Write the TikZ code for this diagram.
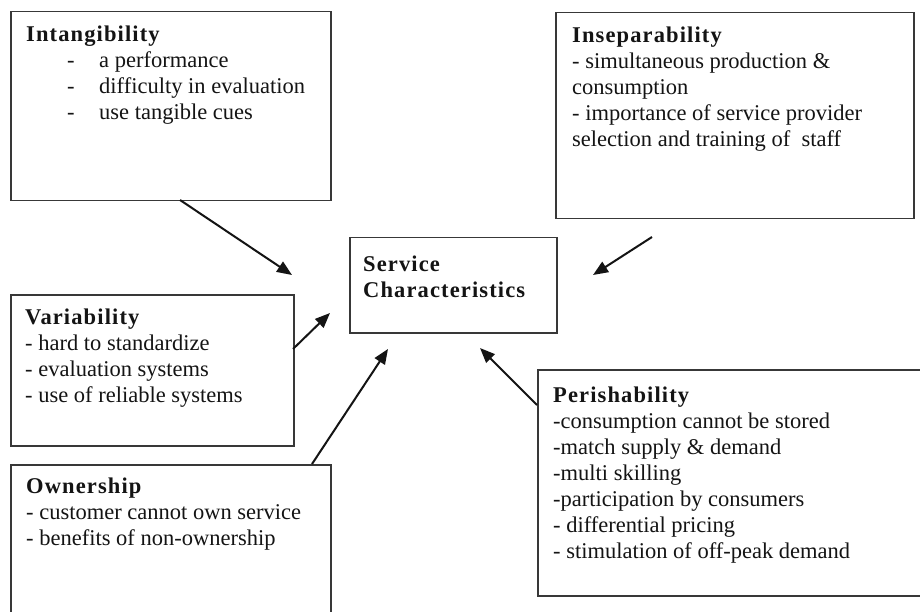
\documentclass[tikz,border=0pt]{standalone}
\usepackage{fontspec}
\setmainfont{Liberation Serif}
\usetikzlibrary{arrows.meta}
\definecolor{boxgray}{gray}{0.22}
\definecolor{inkc}{gray}{0.08}
\newcommand{\ttl}[1]{\textbf{\addfontfeature{LetterSpace=5}#1}}
\newcommand{\tabdash}[1]{\hspace*{41pt}\makebox[32pt][l]{-}#1}
\begin{document}
\begin{tikzpicture}[x=1pt,y=-1pt,
  box/.style={draw=boxgray, line width=1.5pt, inner sep=0pt, anchor=north west},
  txt/.style={anchor=north west, inner sep=0pt, align=left, text=inkc,
    font=\fontsize{22.5}{26}\selectfont},
  arr/.style={line width=2pt, draw=inkc, -{Triangle[length=15pt,width=12pt]}}]
\useasboundingbox[fill=white] (0,0) rectangle (920,612);

% boxes
\node[box, minimum width=320pt, minimum height=189pt] (intang) at (10,11) {};
\node[box, minimum width=358pt, minimum height=206pt] (insep) at (555,12) {};
\node[box, minimum width=207pt, minimum height=95pt] (serv) at (349,237) {};
\node[box, minimum width=283pt, minimum height=151pt] (vari) at (10,294) {};
\node[box, minimum width=320pt, minimum height=170pt] (owner) at (10,464) {};
\node[box, minimum width=390pt, minimum height=226pt] (perish) at (537,369) {};

% texts
\node[txt] (intangt) at (26,26) {\ttl{Intangibility}\\
  \tabdash{a performance}\\
  \tabdash{difficulty in evaluation}\\
  \tabdash{use tangible cues}};
\node[txt] (insept) at (572,27) {\ttl{Inseparability}\\
  - simultaneous production \&\\
  consumption\\
  - importance of service provider\\
  selection and training of\ \ staff};
\node[txt] (servt) at (363,256) {\ttl{Service}\\ \ttl{Characteristics}};
\node[txt] (varit) at (25,309) {\ttl{Variability}\\
  - hard to standardize\\
  - evaluation systems\\
  - use of reliable systems};
\node[txt] (ownert) at (26,478) {\ttl{Ownership}\\
  - customer cannot own service\\
  - benefits of non-ownership};
\node[txt] (perisht) at (553,387) {\ttl{Perishability}\\
  -consumption cannot be stored\\
  -match supply \& demand\\
  -multi skilling\\
  -participation by consumers\\
  - differential pricing\\
  - stimulation of off-peak demand};

% arrow end points
\coordinate (s1) at (180,200);  \coordinate (e1) at (292,275);
\coordinate (s2) at (293,349);  \coordinate (e2) at (330,313);
\coordinate (s3) at (312,464);  \coordinate (e3) at (388,349);
\coordinate (s4) at (652,237);  \coordinate (e4) at (593,275);
\coordinate (s5) at (537,405);  \coordinate (e5) at (480,348);

\draw[arr] (s1) -- (e1);
\draw[arr] (s2) -- (e2);
\draw[arr] (s3) -- (e3);
\draw[arr] (s4) -- (e4);
\draw[arr] (s5) -- (e5);
\end{tikzpicture}
\end{document}
